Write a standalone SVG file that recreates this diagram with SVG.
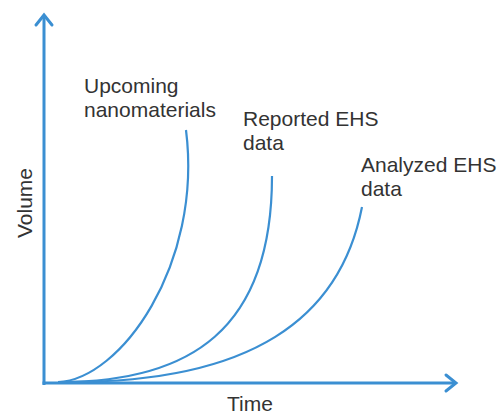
<svg xmlns="http://www.w3.org/2000/svg" width="498" height="414" viewBox="0 0 498 414">
<style>
.ax{stroke:#3b8fd2;stroke-width:3;fill:none}
.cv{stroke:#3b8fd2;stroke-width:2.2;fill:none}
.ah{stroke:#3b8fd2;stroke-width:3;fill:none;stroke-linecap:round;stroke-linejoin:miter}
text{font-family:"Liberation Sans",Arial,sans-serif;font-size:21px;fill:#333}
</style>
<rect width="498" height="414" fill="#fff"/>
<g id="connectors">
<line class="ax" x1="44" y1="385" x2="44" y2="15"/>
<line class="ax" x1="42.5" y1="383" x2="456" y2="383"/>
<polyline class="ah" points="36,25 44,15 52,25"/>
<polyline class="ah" points="446,375 456,383 446,391"/>
<path class="cv" d="M58,382 C120,380 203,265 186,130"/>
<path class="cv" d="M60,382 C190,382 272,330 272,176"/>
<path class="cv" d="M70,382 C250,382 340,320 362,207"/>
</g>
<g id="upcoming"><text x="84" y="93">Upcoming</text><text x="84" y="117">nanomaterials</text></g>
<g id="reported"><text x="243" y="126">Reported EHS</text><text x="243" y="150">data</text></g>
<g id="analyzed"><text x="361" y="172">Analyzed EHS</text><text x="361" y="196">data</text></g>
<g id="ylabel"><text transform="translate(32,203) rotate(-90)" text-anchor="middle">Volume</text></g>
<g id="xlabel"><text x="250" y="411" text-anchor="middle">Time</text></g>
</svg>
